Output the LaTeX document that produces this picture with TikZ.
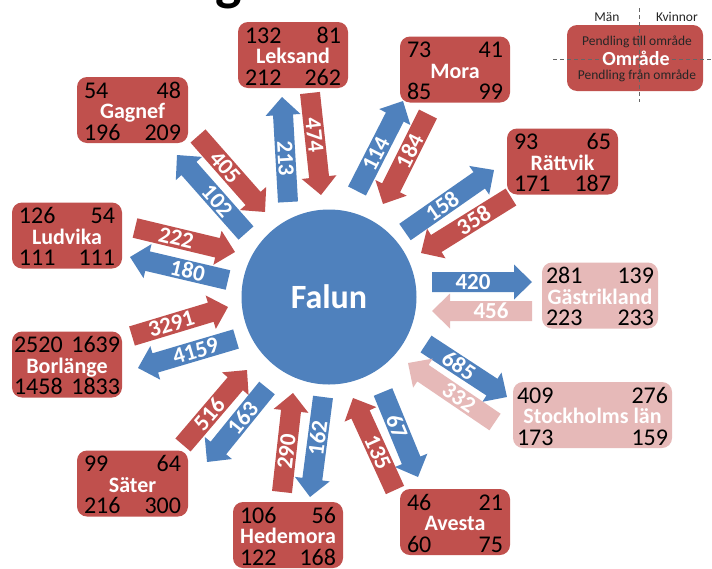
\documentclass[tikz,border=0pt]{standalone}
\usepackage{fontspec}
\setmainfont{Carlito}
\usetikzlibrary{calc}
\definecolor{ored}{RGB}{192,80,77}
\definecolor{oblue}{RGB}{79,129,189}
\definecolor{opink}{RGB}{230,185,184}
\tikzset{
  area/.style={rounded corners=10pt, inner sep=0pt, minimum height=66pt},
  num/.style={font=\fontsize{24}{24}\selectfont, text=black, inner sep=0pt},
  aname/.style={font=\bfseries\fontsize{22}{22}\selectfont, text=white, inner sep=0pt},
  alabel/.style={font=\bfseries\fontsize{23}{23}\selectfont, text=white, inner sep=0pt},
  legtext/.style={font=\fontsize{13.5}{13.5}\selectfont, text=black!85, inner sep=0pt, anchor=base},
  guide/.style={draw=black!60, line width=0.7pt, dash pattern=on 4pt off 3pt},
}
\newcommand{\areabox}[6]{%
  \node[area, fill=#5, minimum width=#4pt] (#1) at (#2,#3) {};
  \node[aname, anchor=base] (#1-name) at ($(#1.center)+(0,8.5)$) {#6};
}
\newcommand{\areanums}[6]{%
  \node[num, anchor=base west] (#1-tl) at ($(#1.west)+(#6,-12)$) {#2};
  \node[num, anchor=base east] (#1-tr) at ($(#1.east)+(-#6,-12)$) {#3};
  \node[num, anchor=base west] (#1-bl) at ($(#1.west)+(#6,30)$) {#4};
  \node[num, anchor=base east] (#1-br) at ($(#1.east)+(-#6,30)$) {#5};
}
\newcommand{\blkarrow}[7]{%
  \pgfmathsetmacro\arang{atan2(-(#5-#3),#4-#2)}%
  \pgfmathsetmacro\arlen{veclen(#4-#2,#5-#3)}%
  \pgfmathsetmacro\artxt{\arang>90 ? \arang-180 : (\arang<-90 ? \arang+180 : \arang)}%
  \pgfmathsetmacro\arneck{\arlen-18}%
  \pgfmathsetmacro\armid{(\arlen-18)/2}%
  \begin{scope}[shift={(#2,#3)}, rotate=\arang]
    \fill[#6] (0,-10) -- (\arneck,-10) -- (\arneck,-17.5) -- (\arlen,0)
      -- (\arneck,17.5) -- (\arneck,10) -- (0,10) -- cycle;
    \node[alabel, rotate=\artxt] (#1) at (\armid,0) {#7};
  \end{scope}
}
\begin{document}
\begin{tikzpicture}[x=1pt, y=-1pt]
\useasboundingbox (0,0) rectangle (712,568);
\clip (0,0) rectangle (712,568);
\fill[white] (0,0) rectangle (712,568);

% cut-off title
\node[font=\bfseries\fontsize{56}{56}\selectfont, anchor=base, inner sep=0pt] (title) at (229,-1) {g};

% centre
\node[circle, fill=oblue, minimum size=175pt, inner sep=0pt,
      font=\bfseries\fontsize{34}{34}\selectfont, text=white] (falun) at (329,297) {Falun};

% arrows: name, tail x, tail y, tip x, tip y, colour, label
\blkarrow{leksand-out}{288}{202}{282}{97}{oblue}{213}
\blkarrow{leksand-in}{310}{93}{321}{195}{ored}{474}
\blkarrow{mora-out}{357}{191}{403}{101}{oblue}{114}
\blkarrow{mora-in}{428}{114}{383}{204}{ored}{184}
\blkarrow{rattvik-out}{405}{232}{494}{170}{oblue}{158}
\blkarrow{rattvik-in}{511}{197}{421}{253}{ored}{358}
\blkarrow{gastrik-out}{432}{282}{532}{282}{oblue}{420}
\blkarrow{gastrik-in}{532}{311}{432}{311}{opink}{456}
\blkarrow{sthlm-out}{426}{344}{507}{397}{oblue}{685}
\blkarrow{sthlm-in}{495}{422}{408}{363}{opink}{332}
\blkarrow{avesta-out}{383}{392}{418}{477}{oblue}{67}
\blkarrow{avesta-in}{395}{490}{353}{398}{ored}{135}
\blkarrow{hedemora-in}{282}{492}{293}{393}{ored}{290}
\blkarrow{hedemora-out}{323}{397}{310}{497}{oblue}{162}
\blkarrow{sater-in}{183}{445}{247}{370}{ored}{516}
\blkarrow{sater-out}{267}{388}{207}{462}{oblue}{163}
\blkarrow{borlange-in}{132}{336}{228}{307}{ored}{3291}
\blkarrow{borlange-out}{236}{339}{138}{368}{oblue}{4159}
\blkarrow{ludvika-in}{135}{228}{235}{252}{ored}{222}
\blkarrow{ludvika-out}{228}{280}{130}{257}{oblue}{180}
\blkarrow{gagnef-in}{198}{136}{265}{212}{ored}{405}
\blkarrow{gagnef-out}{246}{233}{177}{155}{oblue}{102}

% area boxes
\areabox{leksand}{293}{55}{110}{ored}{Leksand}
\areanums{leksand}{132}{81}{212}{262}{7}
\areabox{mora}{455}{69.5}{110}{ored}{Mora}
\areanums{mora}{73}{41}{85}{99}{7}
\areabox{rattvik}{562.5}{161.5}{111}{ored}{Rättvik}
\areanums{rattvik}{93}{65}{171}{187}{7}
\areabox{gagnef}{132.5}{110}{111}{ored}{Gagnef}
\areanums{gagnef}{54}{48}{196}{209}{7}
\areabox{ludvika}{67}{235.5}{110}{ored}{Ludvika}
\areanums{ludvika}{126}{54}{111}{111}{7}
\areabox{borlange}{67}{364.5}{110}{ored}{Borlänge}
\areanums{borlange}{2520}{1639}{1458}{1833}{2}
\areabox{sater}{132.5}{483.5}{111}{ored}{Säter}
\areanums{sater}{99}{64}{216}{300}{7}
\areabox{hedemora}{288}{535}{110}{ored}{Hedemora}
\areanums{hedemora}{106}{56}{122}{168}{7}
\areabox{avesta}{455}{522}{110}{ored}{Avesta}
\areanums{avesta}{46}{21}{60}{75}{7}
\areabox{gastrik}{600}{295.5}{116}{opink}{Gästrikland}
\areanums{gastrik}{281}{139}{223}{233}{4}
\areabox{sthlm}{592.5}{415}{159}{opink}{Stockholms län}
\areanums{sthlm}{409}{276}{173}{159}{4}

% legend
\node[area, fill=ored, minimum width=136pt] (legend) at (635,58) {};
\coordinate (gv1) at (639,8);
\coordinate (gv2) at (639,102);
\coordinate (gh1) at (553,59);
\coordinate (gh2) at (712,59);
\draw[guide] (gv1) -- (gv2);
\draw[guide] (gh1) -- (gh2);
\node[legtext] (men) at (607,21) {Män};
\node[legtext] (women) at (677,21) {Kvinnor};
\node[legtext] (ltill) at (637,45) {Pendling till område};
\node[font=\bfseries\fontsize{20}{20}\selectfont, text=white, inner sep=0pt, anchor=base] (lomr) at (636,65.5) {Område};
\node[legtext] (lfran) at (637,79) {Pendling från område};
\end{tikzpicture}
\end{document}
